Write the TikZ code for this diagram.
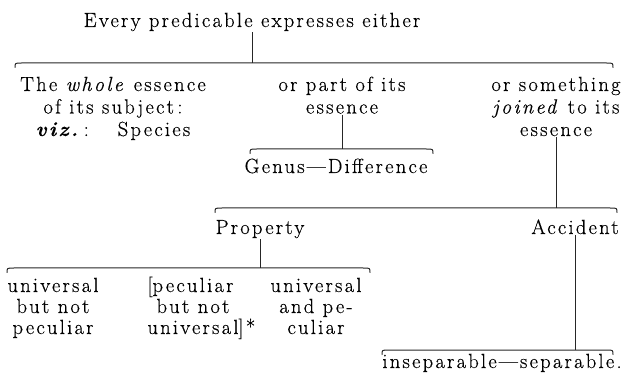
\documentclass[tikz,border=0pt]{standalone}
\usepackage{fontspec}
\newfontfamily\bookfont{Latin Modern Roman}[LetterSpace=11, FakeBold=0.4]
\usetikzlibrary{positioning}

\begin{document}
\begin{tikzpicture}[x=1pt, y=-1pt,
    txt/.style={font=\bookfont\fontsize{20.5}{22.5}\selectfont, align=center, inner sep=1pt, anchor=base},
    tight/.style={txt, font=\bookfont\fontsize{20.5}{21}\selectfont},
    stem/.style={line width=0.9pt, draw=black!85},
    hookline/.style={line width=1pt, draw=black!85, line cap=round,
        to path={([yshift=-4.5pt]\tikztostart) .. controls (\tikztostart) .. ([xshift=7pt]\tikztostart)
            -- ([xshift=-7pt]\tikztotarget) .. controls (\tikztotarget) .. ([yshift=-4.5pt]\tikztotarget)}}
]
    \useasboundingbox (0,0) rectangle (624,382);

    % Heading
    \node (top) [txt] at (252,27) {Every predicable expresses either};

    % First division (anchor base = last line)
    \coordinate (b1l) at (15,63);
    \coordinate (b1r) at (613,63);
    \draw [hookline] (b1l) to (b1r);
    \draw [stem] (top.south) -- (top.south |- b1l);

    \node (whole) [txt] at (113,136) {The \textit{whole} essence\\of its subject\,:\\\textbf{\textit{viz.}}\,:\quad\ Species};
    \node (part) [txt] at (342,113.5) {or part of its\\essence};
    \node (joined) [txt] at (556,136) {or something\\\textit{joined} to its\\essence};

    % Part of the essence
    \coordinate (b2l) at (250,149);
    \coordinate (b2r) at (433,149);
    \draw [hookline] (b2l) to (b2r);
    \draw [stem] (part.south) -- (part.south |- b2l);
    \node (genus) [txt] at (336,173) {Genus—Difference};

    % Joined to the essence
    \coordinate (b3l) at (215,208);
    \coordinate (b3r) at (617,208);
    \draw [hookline] (b3l) to (b3r);
    \draw [stem] (joined.south) -- (joined.south |- b3l);
    \node (prop) [txt] at (260,234) {Property};
    \node (acc) [txt] at (575,234) {Accident};

    % Kinds of property
    \coordinate (b4l) at (7,268);
    \coordinate (b4r) at (370,268);
    \draw [hookline] (b4l) to (b4r);
    \draw [stem] (prop.south) -- (prop.south |- b4l);
    \node (univ) [tight] at (53,334) {universal\\but not\\peculiar};
    \node (pecu) [tight] at (193,334) {\llap{[}peculiar\\but not\\universal\rlap{]*}};
    \node (both) [tight] at (316,334) {universal\\and pe-\\culiar};

    % Kinds of accident
    \coordinate (b5l) at (382,350);
    \coordinate (b5r) at (613,350);
    \draw [hookline] (b5l) to (b5r);
    \draw [stem] (acc.south) -- (acc.south |- b5l);
    \node (insep) [txt] at (502,368) {inseparable—separable.};
\end{tikzpicture}
\end{document}
